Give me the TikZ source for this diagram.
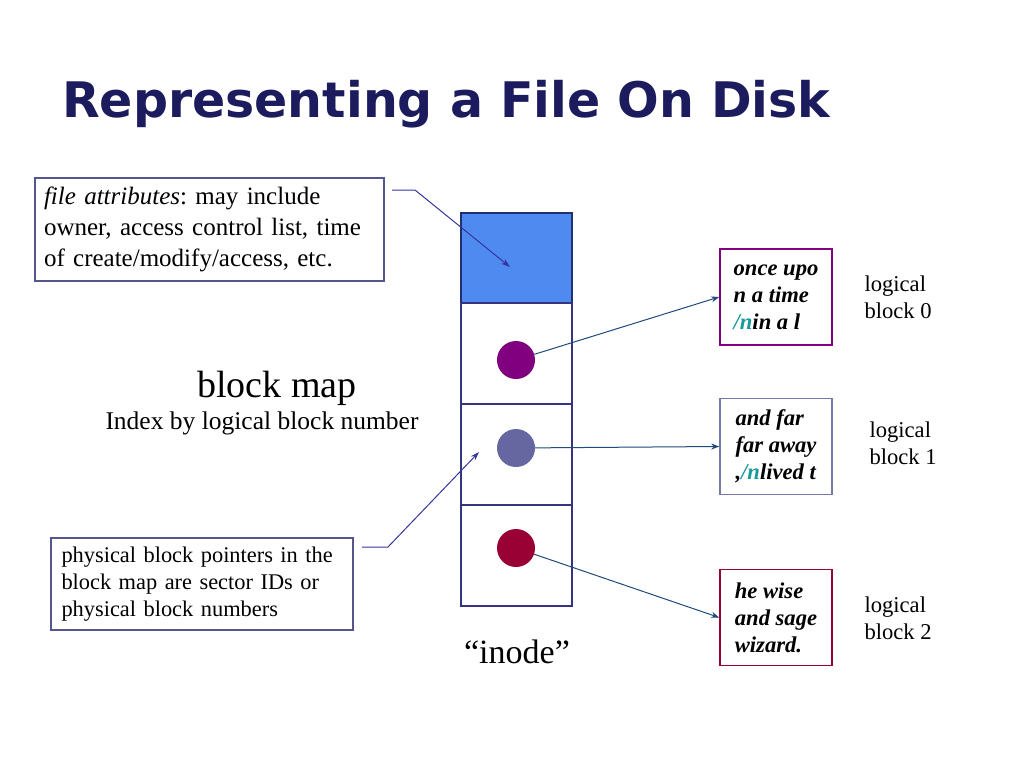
\documentclass[tikz,border=0pt]{standalone}
\usepackage{fontspec}
\setmainfont{Liberation Serif}
\newfontfamily\titlefont{DejaVu Sans}
\usetikzlibrary{positioning,arrows.meta}
\frenchspacing
\definecolor{titleblue}{HTML}{1B1B5E}
\definecolor{notebox}{HTML}{56568E}
\definecolor{cellline}{HTML}{35357F}
\definecolor{attrfill}{HTML}{4F8AF0}
\definecolor{attrline}{HTML}{203070}
\definecolor{notearrow}{HTML}{3535A0}
\definecolor{ptrarrow}{HTML}{1F4A7A}
\definecolor{dotA}{HTML}{800080}
\definecolor{dotB}{HTML}{6666A0}
\definecolor{dotC}{HTML}{990033}
\definecolor{boxB}{HTML}{7777AA}
\definecolor{nl}{HTML}{1A9A9A}
\begin{document}
\begin{tikzpicture}[x=1pt,y=-1pt,
    cell/.style={draw=cellline,line width=1.2pt,minimum width=111pt,inner sep=0pt},
    dot/.style={circle,minimum size=38pt,inner sep=0pt},
    note/.style={draw=notebox,line width=1.2pt,align=left,inner sep=0pt},
    data/.style={line width=1.6pt,minimum width=112pt,minimum height=96pt,align=left,inner sep=0pt,
        font=\fontsize{22.6}{27}\selectfont\bfseries\itshape},
    lbl/.style={align=left,font=\fontsize{22.6}{27}\selectfont},
    ptr/.style={-{Stealth[length=8pt,width=6pt]},line width=1pt,draw=ptrarrow},
    callout/.style={-{Stealth[length=9pt,width=6pt]},line width=1pt,draw=notearrow}]
\useasboundingbox (0,0) rectangle (1024,768);
\node[anchor=base west,inner sep=0pt,text=titleblue,font=\fontsize{49}{57}\selectfont\titlefont\bfseries] (title) at (62,117) {Representing a File On Disk};
\node[cell,minimum height=90pt,fill=attrfill,draw=attrline] (c0) at (516.5,258) {};
\node[cell,minimum height=101pt] (c1) at (516.5,353.5) {};
\node[cell,minimum height=101pt] (c2) at (516.5,454.5) {};
\node[cell,minimum height=101pt] (c3) at (516.5,555.5) {};
\node[dot,fill=dotA] (d0) at (516,360) {};
\node[dot,fill=dotB] (d1) at (516,448) {};
\node[dot,fill=dotC] (d2) at (516,548) {};
\node[note,minimum width=349pt,minimum height=103pt,text width=331pt,font=\fontsize{25}{31}\selectfont] (attr) at (209.5,229.5)
    {\textit{file attributes}: may include\\owner, access control list, time\\of create/modify/access, etc.};
\node[note,minimum width=302pt,minimum height=92pt,text width=281pt,font=\fontsize{22.4}{27}\selectfont] (phys) at (202,584)
    {physical block pointers in the\\block map are sector IDs or\\physical block numbers};
\node[font=\fontsize{38}{44}\selectfont] (map) at (277,388) {block map};
\node[font=\fontsize{25.5}{31}\selectfont] (index) at (262,423) {Index by logical block number};
\node[font=\fontsize{34}{40}\selectfont] (inode) at (517,652) {``inode''};
\node[data,draw=dotA] (b0) at (776,297) {once upo\\n a time\\\textcolor{nl}{/n}in a l};
\node[data,draw=boxB] (b1) at (776,446.5) {and far\\far away\\,\textcolor{nl}{/n}lived t};
\node[data,draw=dotC] (b2) at (776,617.5) {he wise\\and sage\\wizard.};
\node[lbl,anchor=west] (l0) at (861,297) {logical\\block 0};
\node[lbl,anchor=west] (l1) at (866,443) {logical\\block 1};
\node[lbl,anchor=west] (l2) at (861,618) {logical\\block 2};
\coordinate (a0) at (392,190);
\coordinate (t0) at (510,267);
\coordinate (p0) at (362,547);
\coordinate (t1) at (479,452);
\draw[callout] (a0) -- ++(23,0) -- (t0);
\draw[callout] (p0) -- ++(26,0) -- (t1);
\draw[ptr] (d0) -- (b0.west);
\draw[ptr] (d1) -- (b1.west);
\draw[ptr] (d2) -- (b2.west);
\end{tikzpicture}
\end{document}
